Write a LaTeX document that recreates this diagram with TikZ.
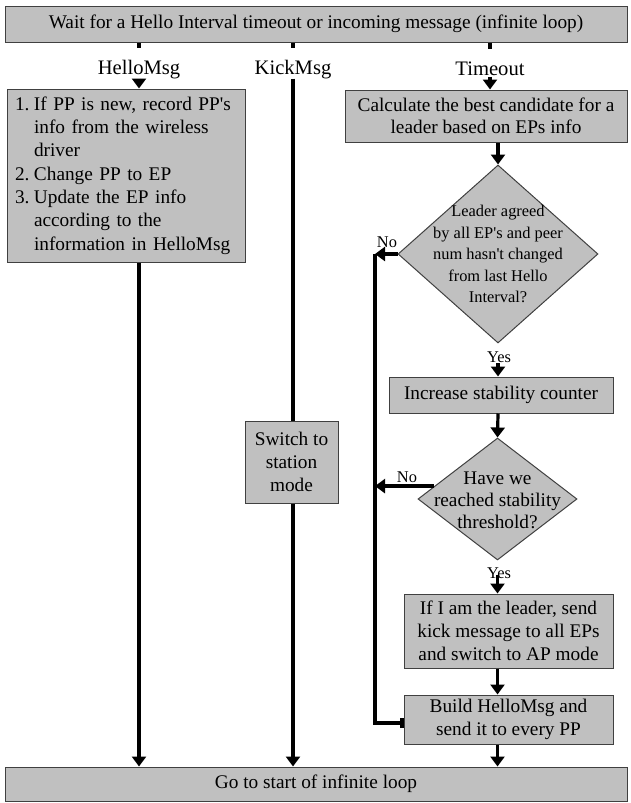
\documentclass[tikz,border=0pt]{standalone}
\usepackage{fontspec}
\setmainfont{Liberation Serif}
\usetikzlibrary{arrows.meta,shapes.geometric,calc}

\definecolor{boxfill}{HTML}{C0C0C0}
\definecolor{boxline}{HTML}{404040}

\newcommand{\numitem}[1]{\makebox[19pt][l]{#1}}
\newcommand{\contline}{\hspace*{19pt}}

\begin{document}
\begin{tikzpicture}[x=1pt,y=-1pt,
  box/.style={draw=boxline, line width=1pt, fill=boxfill, inner sep=0pt,
    align=center, font=\fontsize{19.3}{23.2}\selectfont},
  decision/.style={diamond, draw=boxline, line width=1pt, fill=boxfill,
    inner sep=0pt, aspect=1},
  branchlabel/.style={inner sep=0pt, anchor=base, font=\fontsize{20.6}{24}\selectfont},
  answer/.style={inner sep=0pt, anchor=base, font=\fontsize{16.4}{19}\selectfont},
  flow/.style={line width=3.2pt, -{Triangle[length=10pt,width=14pt]}},
  plain/.style={line width=3.2pt}
]
\useasboundingbox (0,0) rectangle (630,803);

% process boxes
\node[box, minimum width=622pt, minimum height=36pt] (top) at (316,24)
  {Wait for a Hello Interval timeout or incoming message (infinite loop)};
\node[box, minimum width=238pt, minimum height=173pt, text width=222pt,
  align=left, font=\fontsize{19.3}{23.3}\selectfont] (hello) at (126,175.5)
  {\numitem{1.}If PP is new, record PP\textquotesingle s\\
   \contline info from the wireless\\
   \contline driver\\
   \numitem{2.}Change PP to EP\\
   \numitem{3.}Update the EP info\\
   \contline according to the\\
   \contline information in HelloMsg};
\node[box, minimum width=93pt, minimum height=82pt] (switch) at (291.5,462)
  {Switch to\\station\\mode};
\node[box, minimum width=282pt, minimum height=52pt, font=\fontsize{19.3}{22.5}\selectfont]
  (calc) at (486,116)
  {Calculate the best candidate for a\\leader based on EPs info};
\node[decision, minimum width=200pt, minimum height=178pt] (d1) at (498,254) {};
\node[inner sep=0pt, align=center, font=\fontsize{16.4}{21.5}\selectfont] at (d1.center)
  {Leader agreed\\by all EP\textquotesingle s and peer\\num hasn\textquotesingle t changed\\from last Hello\\Interval?};
\node[box, minimum width=224pt, minimum height=36pt] (inc) at (501,395)
  {Increase stability counter};
\node[decision, minimum width=159pt, minimum height=122pt] (d2) at (497.5,499) {};
\node[inner sep=0pt, align=center, font=\fontsize{19.3}{22}\selectfont] at ([yshift=-1.5pt]d2.center)
  {Have we\\reached stability\\threshold?};
\node[box, minimum width=209pt, minimum height=74pt, font=\fontsize{19.3}{23}\selectfont]
  (leader) at (508.5,631)
  {If I am the leader, send\\kick message to all EPs\\and switch to AP mode};
\node[box, minimum width=209pt, minimum height=49pt, font=\fontsize{19.3}{23}\selectfont]
  (build) at (508.5,719.5)
  {Build HelloMsg and\\send it to every PP};
\node[box, minimum width=622pt, minimum height=34pt] (bottom) at (316,784)
  {Go to start of infinite loop};

% branch labels under the wait box
\node[branchlabel] (lhello) at (139,74) {HelloMsg};
\node[branchlabel] (lkick) at (293,74) {KickMsg};
\node[branchlabel] (ltime) at (490,75) {Timeout};

% answers at the decisions
\node[answer] (no1) at (387,247) {No};
\node[answer] (yes1) at (499,362) {Yes};
\node[answer] (no2) at (407,482) {No};
\node[answer] (yes2) at (499,578) {Yes};

% loop-back line on the left of the timeout column
\coordinate (loopc) at (375,254);
\coordinate (no2start) at ($(d2.west)!0.21!(d2.north)$);
\coordinate (buildin) at ([yshift=-3.5pt]build.west);

% HelloMsg branch
\draw[plain] (top.south -| lhello) -- ([yshift=12pt]lhello.north);
\draw[flow] (lhello.south) -- (lhello.south |- hello.north);
\draw[flow] (hello.south -| lhello) -- (bottom.north -| lhello);

% KickMsg branch
\draw[plain] (top.south -| lkick) -- ([yshift=12pt]lkick.north);
\draw[plain] (lkick.south) -- (lkick.south |- switch.north);
\draw[flow] (switch.south -| lkick) -- (bottom.north -| lkick);

% Timeout branch
\draw[plain] (top.south -| ltime) -- ([yshift=12pt]ltime.north);
\draw[flow] ([yshift=-1.5pt]ltime.south) -- (ltime.south |- calc.north);
\draw[flow] (calc.south -| d1) -- (d1.north);
\draw[flow] ([yshift=-1pt]yes1.south -| d1) -- (inc.north -| d1);
\draw[flow] (inc.south -| d1) -- (d2.north);
\draw[flow] ([yshift=3pt]yes2.south -| d2) -- (leader.north -| d2);
\draw[flow] (leader.south -| d2) -- (build.north -| d2);
\draw[flow] (build.south -| d2) -- (bottom.north -| d2);

% "No" exits and the loop back to the HelloMsg sender
\draw[flow] (d1.west) -- (loopc);
\draw[flow] (no2start) -- (no2start -| loopc);
\draw[plain, -{Bar[width=10pt]}] (loopc) -- (loopc |- buildin) -- (buildin);
\end{tikzpicture}
\end{document}
